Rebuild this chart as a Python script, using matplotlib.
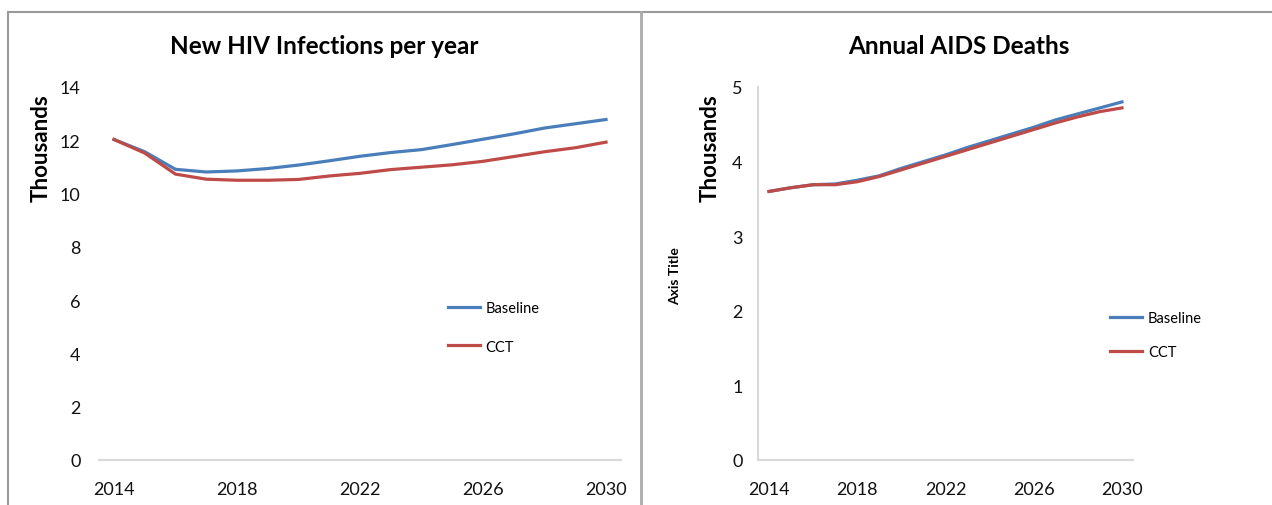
import matplotlib
matplotlib.use("Agg")
from matplotlib import pyplot as plt
from matplotlib.lines import Line2D

plt.rcParams["font.family"] = ["Lato", "DejaVu Sans"]

years = list(range(2014, 2031))

# new HIV infections per year, thousands
hiv_baseline = [12.03, 11.57, 10.91, 10.81, 10.85, 10.94, 11.07, 11.23, 11.40,
                11.54, 11.65, 11.84, 12.04, 12.24, 12.46, 12.62, 12.78]
hiv_cct = [12.03, 11.52, 10.73, 10.54, 10.50, 10.50, 10.53, 10.66, 10.76,
           10.90, 10.99, 11.08, 11.21, 11.39, 11.57, 11.72, 11.93]

# annual AIDS deaths, thousands
aids_baseline = [3.60, 3.65, 3.69, 3.70, 3.75, 3.81, 3.91, 4.00, 4.09,
                 4.19, 4.28, 4.37, 4.46, 4.56, 4.64, 4.72, 4.80]
aids_cct = [3.60, 3.65, 3.69, 3.69, 3.73, 3.80, 3.89, 3.98, 4.07,
            4.16, 4.25, 4.34, 4.43, 4.52, 4.60, 4.67, 4.72]

xticks = [2014, 2018, 2022, 2026, 2030]
blue = "#4a7ebb"
red = "#be4b48"
W, H = 1272, 506


def px(x0, y0, x1, y1):
    # pixel box -> figure fraction rect
    return [x0 / W, 1 - y1 / H, (x1 - x0) / W, (y1 - y0) / H]


fig = plt.figure(figsize=(12.72, 5.06), dpi=100)

# frame lines around the two chart areas
grey = "#9a9a9a"
fig.add_artist(Line2D([8 / W, 1], [1 - 13 / H] * 2, color=grey, lw=1.5))
fig.add_artist(Line2D([8 / W] * 2, [0, 1 - 13 / H], color=grey, lw=1.5))
fig.add_artist(Line2D([641 / W] * 2, [0, 1 - 13 / H], color="#aaaaaa", lw=2))


def style(ax, ymax, yticks, show_left):
    ax.set_xlim(2013.5, 2030.5)
    ax.set_ylim(0, ymax)
    ax.set_xticks(xticks)
    ax.set_yticks(yticks)
    for s in ["top", "right"]:
        ax.spines[s].set_visible(False)
    ax.spines["left"].set_visible(show_left)
    ax.spines["bottom"].set_color("#d9d9d9")
    ax.spines["left"].set_color("#d9d9d9")
    ax.spines["bottom"].set_linewidth(1.5)
    ax.spines["left"].set_linewidth(1.5)
    ax.tick_params(length=0, labelsize=13, colors="#111111")
    ax.tick_params(axis="x", pad=15)


ax1 = fig.add_axes(px(98.6, 88, 621.4, 461))
ax1.plot(years, hiv_baseline, color=blue, lw=2.3, label="Baseline")
ax1.plot(years, hiv_cct, color=red, lw=2.3, label="CCT")
style(ax1, 14, range(0, 15, 2), False)
ax1.tick_params(axis="y", pad=13)
ax1.set_ylabel("Thousands", fontsize=16, fontweight="bold")
ax1.yaxis.set_label_coords(-0.09, 0.839)
fig.text(324 / W, 1 - 47 / H, "New HIV Infections per year", ha="center",
         va="center", fontsize=17.5, fontweight="bold")
ax1.legend(loc="upper left", bbox_to_anchor=(0.668, 0.425), frameon=False,
           fontsize=10.5, handlelength=2.2, handletextpad=0.4,
           labelspacing=1.65, borderpad=0, borderaxespad=0)

ax2 = fig.add_axes(px(758, 88, 1133, 461))
ax2.plot(years, aids_baseline, color=blue, lw=2.3, label="Baseline")
ax2.plot(years, aids_cct, color=red, lw=2.3, label="CCT")
style(ax2, 5, range(0, 6), True)
ax2.tick_params(axis="y", pad=11)
ax2.set_ylabel("Thousands", fontsize=16, fontweight="bold")
ax2.yaxis.set_label_coords(-0.1, 0.839)
fig.text(959 / W, 1 - 47 / H, "Annual AIDS Deaths", ha="center",
         va="center", fontsize=17.5, fontweight="bold")
fig.text(675 / W, 1 - 276 / H, "Axis Title", ha="center", va="center",
         rotation=90, fontsize=10, fontweight="bold")
ax2.legend(loc="upper left", bbox_to_anchor=(0.939, 0.4), frameon=False,
           fontsize=10.5, handlelength=2.2, handletextpad=0.4,
           labelspacing=1.4, borderpad=0, borderaxespad=0)

fig.savefig("out.png", dpi=100)
